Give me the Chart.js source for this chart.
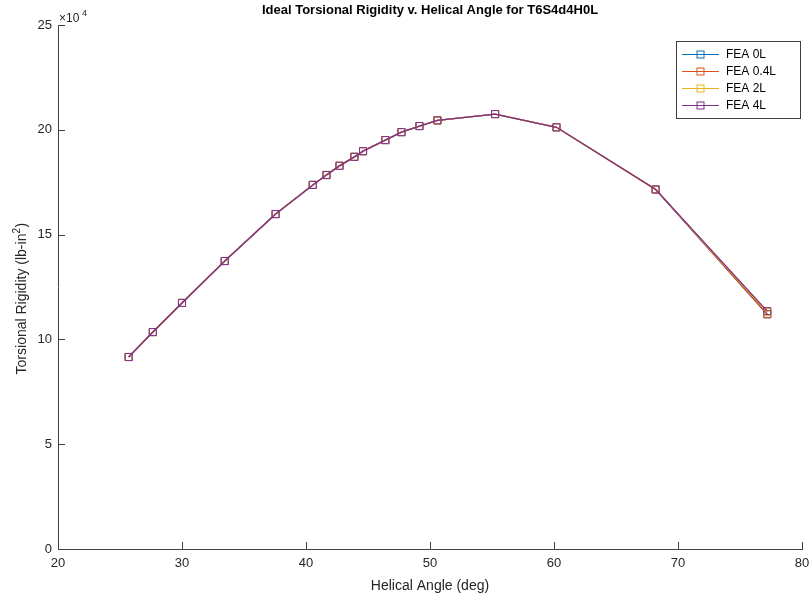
<!DOCTYPE html>
<html>
<head>
<meta charset="utf-8">
<script src="https://cdn.jsdelivr.net/npm/chart.js@4.4.0/dist/chart.umd.min.js"></script>
<style>
  html, body { margin: 0; padding: 0; background: #fff; }
  #wrap { width: 810px; height: 597px; }
</style>
</head>
<body>
<div id="wrap"><canvas id="chart_rigidity"></canvas></div>
<script>
// helical angle (deg)
var angles = [25.7, 27.65, 30.0, 33.45, 37.55, 40.55, 41.65, 42.7, 43.9, 44.6, 46.4, 47.7, 49.15, 50.6, 55.25, 60.2, 68.2, 77.2];
// torsional rigidity (lb-in^2)
var fea0L  = [91600, 103500, 117400, 137400, 159800, 173700, 178400, 182800, 187100, 189800, 195100, 198900, 201800, 204500, 207500, 201200, 171500, 112000];
var fea04L = [91600, 103500, 117400, 137400, 159800, 173700, 178500, 182800, 187100, 189800, 195100, 198900, 201800, 204500, 207500, 201200, 171600, 112000];
var fea2L  = [91600, 103500, 117400, 137400, 159800, 173700, 178400, 182800, 187100, 189800, 195100, 198900, 201800, 204500, 207500, 201200, 171500, 113000];
var fea4L  = [91600, 103500, 117400, 137400, 159800, 173700, 178400, 182800, 187100, 189800, 195100, 198900, 201800, 204500, 207500, 201200, 171500, 113500];
var seriesNames = ['FEA 0L', 'FEA 0.4L', 'FEA 2L', 'FEA 4L'];
var seriesColors = ['#0072BD', '#D95319', '#EDB120', '#7E2F8E'];
var xTicks = [20, 30, 40, 50, 60, 70, 80];
var yTicks = [0, 50000, 100000, 150000, 200000, 250000];

function pts(ys) {
    return angles.map(function (a, i) { return { x: a, y: ys[i] }; });
}

var allSeries = [fea0L, fea04L, fea2L, fea4L];
var datasets = allSeries.map(function (ys, i) {
    return {
        label: seriesNames[i],
        data: pts(ys),
        borderColor: seriesColors[i],
        borderWidth: 1.3,
        pointStyle: 'rect',
        pointRadius: 5,
        pointBorderWidth: 1,
        pointBorderColor: seriesColors[i],
        pointBackgroundColor: 'rgba(0,0,0,0)',
        fill: false,
        tension: 0,
        order: 4 - i
    };
});

var axisColor = '#404040';
var textColor = '#262626';
var fontFam = '"Liberation Sans", Arial, sans-serif';

var matlabLook = {
    id: 'matlabLook',
    beforeDraw: function (chart) {
        var ctx = chart.ctx;
        ctx.save();
        ctx.fillStyle = 'white';
        ctx.fillRect(0, 0, chart.width, chart.height);
        ctx.restore();
    },
    afterDraw: function (chart) {
        var ctx = chart.ctx;
        var a = chart.chartArea;
        var xs = chart.scales.x, ys = chart.scales.y;
        ctx.save();
        // inward ticks
        ctx.strokeStyle = axisColor;
        ctx.lineWidth = 1;
        ctx.beginPath();
        xTicks.forEach(function (t) {
            var px = Math.round(xs.getPixelForValue(t)) + 0.5;
            ctx.moveTo(px, a.bottom);
            ctx.lineTo(px, a.bottom - 7);
        });
        yTicks.forEach(function (t) {
            var py = Math.round(ys.getPixelForValue(t)) + 0.5;
            ctx.moveTo(a.left, py);
            ctx.lineTo(a.left + 7, py);
        });
        ctx.stroke();

        // title
        ctx.fillStyle = '#000';
        ctx.font = 'bold 13px ' + fontFam;
        ctx.textAlign = 'center';
        ctx.textBaseline = 'middle';
        ctx.fillText('Ideal Torsional Rigidity v. Helical Angle for T6S4d4H0L', (a.left + a.right) / 2, 10);

        // exponent label
        ctx.fillStyle = textColor;
        ctx.textAlign = 'left';
        ctx.font = '12px ' + fontFam;
        ctx.fillText('\u00d710', a.left + 1, 19);
        ctx.font = '9px ' + fontFam;
        ctx.fillText('4', a.left + 24, 14);

        // axis titles
        ctx.font = '14px ' + fontFam;
        ctx.textAlign = 'center';
        ctx.fillText('Helical Angle (deg)', (a.left + a.right) / 2, 586);
        ctx.save();
        ctx.translate(22, 298);
        ctx.rotate(-Math.PI / 2);
        ctx.fillText('Torsional Rigidity (lb-in', -6, 0);
        var w = ctx.measureText('Torsional Rigidity (lb-in').width;
        ctx.font = '10px ' + fontFam;
        ctx.textAlign = 'left';
        ctx.fillText('2', -6 + w / 2, -5);
        ctx.font = '14px ' + fontFam;
        ctx.fillText(')', -6 + w / 2 + 6, 0);
        ctx.restore();

        // legend
        var lx = 676.5, ly = 41.5, lw = 124, lh = 77;
        ctx.fillStyle = '#fff';
        ctx.fillRect(lx, ly, lw, lh);
        ctx.strokeStyle = axisColor;
        ctx.strokeRect(lx, ly, lw, lh);
        ctx.font = '12px ' + fontFam;
        ctx.textAlign = 'left';
        ctx.textBaseline = 'middle';
        chart.data.datasets.forEach(function (ds, i) {
            var y = 54 + i * 17;
            ctx.strokeStyle = ds.borderColor;
            ctx.beginPath();
            ctx.moveTo(682, y + 0.5);
            ctx.lineTo(719, y + 0.5);
            ctx.stroke();
            ctx.strokeRect(697, y - 3, 7, 7);
            ctx.fillStyle = '#000';
            ctx.fillText(ds.label, 726, y + 1);
        });
        ctx.restore();
    }
};

var chart_rigidity = new Chart(document.getElementById('chart_rigidity'), {
    type: 'line',
    data: { datasets: datasets },
    options: {
        animation: false,
        responsive: true,
        maintainAspectRatio: false,
        layout: { padding: { left: 0, right: 0, top: 25, bottom: 0 } },
        plugins: {
            legend: { display: false },
            title: { display: false },
            tooltip: { enabled: false }
        },
        scales: {
            x: {
                type: 'linear',
                min: 20,
                max: 80,
                afterBuildTicks: function (s) { s.ticks = xTicks.map(function (v) { return { value: v }; }); },
                afterFit: function (s) { s.height = 48; s.paddingRight = 8; s.paddingLeft = 0; },
                grid: { display: false, drawTicks: false },
                border: { display: true, color: axisColor, width: 1 },
                ticks: { padding: 7, color: textColor, font: { family: fontFam, size: 13 } }
            },
            y: {
                type: 'linear',
                min: 0,
                max: 250000,
                afterBuildTicks: function (s) { s.ticks = yTicks.map(function (v) { return { value: v }; }); },
                afterFit: function (s) { s.width = 58; },
                grid: { display: false, drawTicks: false },
                border: { display: true, color: axisColor, width: 1 },
                ticks: {
                    padding: 6,
                    color: textColor,
                    font: { family: fontFam, size: 13 },
                    callback: function (v) { return v / 10000; }
                }
            }
        }
    },
    plugins: [matlabLook]
});
</script>
</body>
</html>
